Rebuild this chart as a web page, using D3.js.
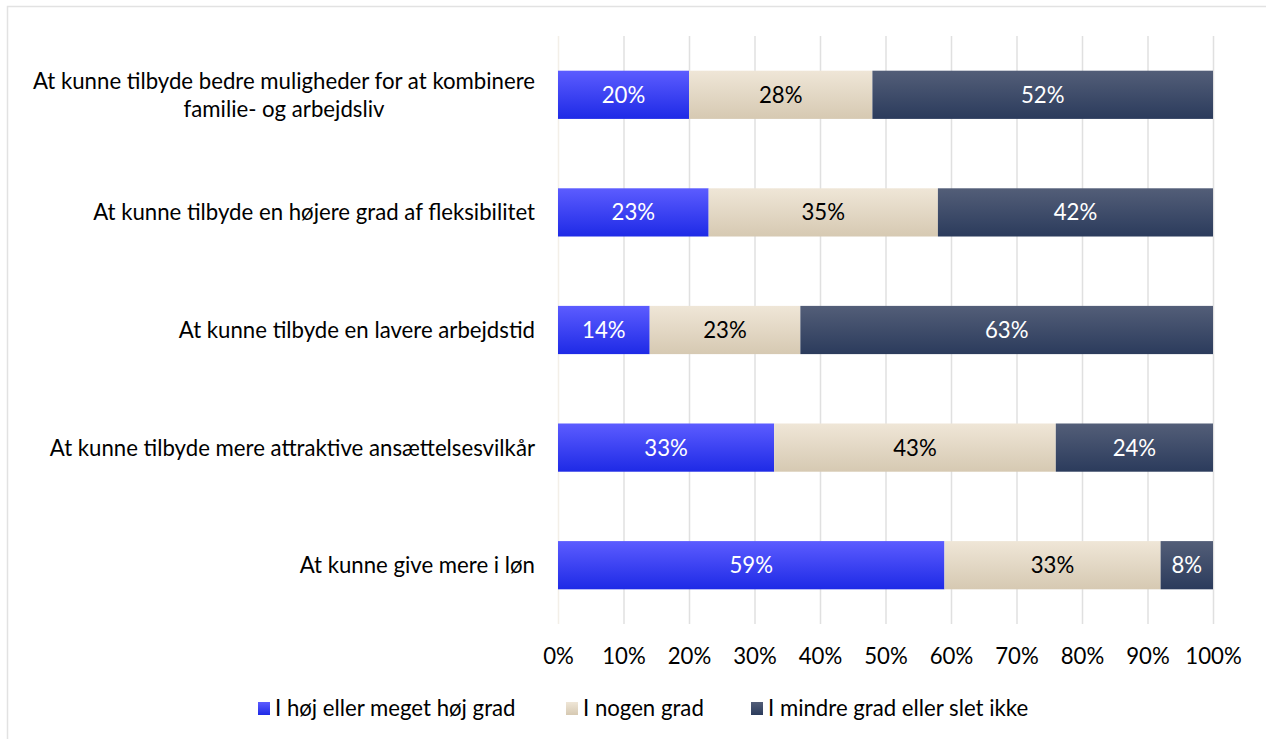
<!DOCTYPE html>
<html>
<head>
<meta charset="utf-8">
<script src="https://cdn.jsdelivr.net/npm/d3@7"></script>
<style>
  html, body { margin: 0; padding: 0; background: #fff; }
  svg { display: block; font-family: Lato, "Open Sans", sans-serif; }
</style>
</head>
<body>
<svg id="chart" width="1266" height="739"></svg>
<script>
// Survey items (top to bottom) and the share answering in each category (%)
const categories = [
  ["At kunne tilbyde bedre muligheder for at kombinere", "familie- og arbejdsliv"],
  ["At kunne tilbyde en højere grad af fleksibilitet"],
  ["At kunne tilbyde en lavere arbejdstid"],
  ["At kunne tilbyde mere attraktive ansættelsesvilkår"],
  ["At kunne give mere i løn"]
];
const seriesNames = ["I høj eller meget høj grad", "I nogen grad", "I mindre grad eller slet ikke"];
const highDegree = [20, 23, 14, 33, 59];
const someDegree = [28, 35, 23, 43, 33];
const lowDegree  = [52, 42, 63, 24, 8];
const tickValues = [0, 10, 20, 30, 40, 50, 60, 70, 80, 90, 100];

const svg = d3.select("#chart");
const W = 1266, H = 739;
const FS = 22.2;

// chart frame
svg.append("rect")
  .attr("x", 7.5).attr("y", 6.5).attr("width", W).attr("height", H)
  .attr("fill", "#fff").attr("stroke", "#e2e2e2").attr("stroke-width", 1.5);

const x = d3.scaleLinear().domain([0, 100]).range([558, 1213]);
const y = d3.scaleBand().domain(d3.range(categories.length)).range([36, 624]).paddingInner(0.59).paddingOuter(0.295);

// gradients for the series fills
const fills = [
  ["#5c5cff", "#1e2ae6"],
  ["#efe6d7", "#d6c9b2"],
  ["#535e78", "#2b3b5c"]
];
const defs = svg.append("defs");
fills.forEach((c, i) => {
  const g = defs.append("linearGradient").attr("id", "g" + i)
    .attr("x1", 0).attr("y1", 0).attr("x2", 0).attr("y2", 1);
  g.append("stop").attr("offset", "0%").attr("stop-color", c[0]);
  g.append("stop").attr("offset", "100%").attr("stop-color", c[1]);
});

// vertical gridlines and percentage ticks
const xAxis = d3.axisBottom(x).tickValues(tickValues).tickSize(-(624 - 36)).tickFormat(d => d + "%");
const ax = svg.append("g").attr("transform", "translate(0,624)").call(xAxis);
ax.select(".domain").remove();
ax.selectAll(".tick line").attr("stroke", (d) => d === 0 ? "#f3efe8" : "#e0e0e0").attr("stroke-width", 1.5);
ax.selectAll(".tick text")
  .attr("y", 32).attr("dy", "0.36em")
  .attr("font-size", FS).attr("fill", "#000")
  .attr("font-family", "Lato, 'Open Sans', sans-serif");

// stacked bars
const stackData = categories.map((c, i) => {
  const out = { i };
  [highDegree, someDegree, lowDegree].forEach((arr, k) => out[seriesNames[k]] = arr[i]);
  return out;
});
const stacked = d3.stack().keys(seriesNames)(stackData);

const textColors = ["#fff", "#000", "#fff"];
stacked.forEach((layer, k) => {
  const g = svg.append("g");
  g.selectAll("rect").data(layer).join("rect")
    .attr("x", d => x(d[0]))
    .attr("y", d => y(d.data.i))
    .attr("width", d => x(d[1]) - x(d[0]))
    .attr("height", y.bandwidth())
    .attr("fill", `url(#g${k})`);
  g.selectAll("text").data(layer).join("text")
    .attr("x", d => (x(d[0]) + x(d[1])) / 2)
    .attr("y", d => y(d.data.i) + y.bandwidth() / 2)
    .attr("dy", "0.36em")
    .attr("text-anchor", "middle")
    .attr("font-size", FS)
    .attr("fill", textColors[k])
    .text(d => (d[1] - d[0]) + "%");
});

// category labels (multi-line labels are centred on their widest line)
const labelRight = 535;
categories.forEach((lines, i) => {
  const cy = y(i) + y.bandwidth() / 2;
  const lh = 28;
  const t = svg.append("text").attr("font-size", FS).attr("fill", "#000");
  const spans = lines.map(ln => t.append("tspan").text(ln));
  const widths = spans.map(s => s.node().getComputedTextLength());
  const maxW = d3.max(widths);
  const cx = labelRight - maxW / 2;
  spans.forEach((s, j) => {
    s.attr("x", cx).attr("text-anchor", "middle")
     .attr("y", cy + (j - (lines.length - 1) / 2) * lh)
     .attr("dy", "0.36em");
  });
});

// legend
const legendX = [258, 566, 751];
const lg = svg.append("g");
seriesNames.forEach((s, k) => {
  lg.append("rect").attr("x", legendX[k]).attr("y", 702).attr("width", 12).attr("height", 13)
    .attr("fill", `url(#g${k})`);
  lg.append("text").attr("x", legendX[k] + 17).attr("y", 708.5).attr("dy", "0.36em")
    .attr("font-size", FS).attr("fill", "#000").text(s);
});
</script>
</body>
</html>
